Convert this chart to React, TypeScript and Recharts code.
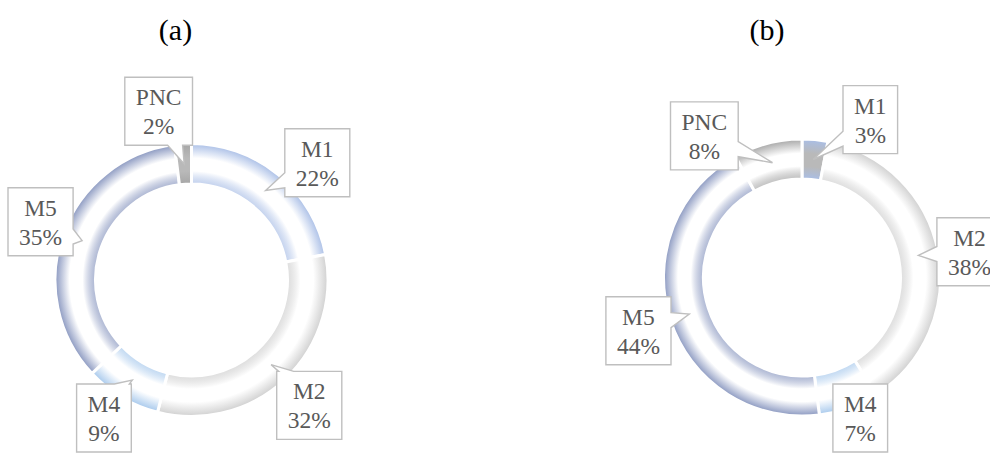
import { PieChart, Pie, Cell } from "recharts";

const categories = ["M1", "M2", "M4", "M5", "PNC"];
const shareA = [22, 32, 9, 35, 2];
const shareB = [3, 38, 7, 44, 8];
const panelTitles = ["(a)", "(b)"];

const sliceColors: Record<string, string> = {
  M1: "#a9bee6",
  M2: "#cfcfcf",
  M4: "#a6c8ec",
  M5: "#8896bf",
  PNC: "#a6a6a6",
};

const FONT = '"Liberation Serif", "Times New Roman", serif';
const LABEL_SIZE = 23.5;
const LABEL_R = 172;
const MIN_SEP = 58;
const RAD = Math.PI / 180;
const W = 990;
const H = 454;

const panels = [
  { key: "a", title: panelTitles[0], values: shareA, cx: 191.5, cy: 280, inner: 96, outer: 136.5, titleX: 175.5 },
  { key: "b", title: panelTitles[1], values: shareB, cx: 802, cy: 277.5, inner: 98.5, outer: 138.5, titleX: 767 },
];

let ctx: CanvasRenderingContext2D | null = null;
function textWidth(s: string) {
  if (!ctx) ctx = document.createElement("canvas").getContext("2d");
  if (!ctx) return s.length * LABEL_SIZE * 0.55;
  ctx.font = `${LABEL_SIZE}px ${FONT}`;
  return ctx.measureText(s).width;
}

// mid angles of the slices, then spread labels that sit too close
function labelOffsets(values: number[]) {
  const total = values.reduce((s, v) => s + v, 0);
  let start = 90;
  const mids = values.map((v) => {
    const sweep = (v / total) * 360;
    const m = start - sweep / 2;
    start -= sweep;
    return m;
  });
  const ang = mids.slice();
  const n = ang.length;
  for (let it = 0; it < 80; it++) {
    for (let i = 0; i < n; i++) {
      const j = (i + 1) % n;
      let sep = ang[i] - ang[j];
      while (sep < 0) sep += 360;
      while (sep >= 360) sep -= 360;
      if (sep < MIN_SEP) {
        const push = ((MIN_SEP - sep) / 2) * 0.5;
        ang[i] += push;
        ang[j] -= push;
      }
    }
  }
  return ang.map((a, i) => a - mids[i]);
}

function calloutPath(x0: number, y0: number, w: number, h: number, tx: number, ty: number) {
  const x1 = x0 + w;
  const y1 = y0 + h;
  const cxb = x0 + w / 2;
  const cyb = y0 + h / 2;
  const dx = tx - cxb;
  const dy = ty - cyb;
  const half = 7.5;
  const inside = tx > x0 && tx < x1 && ty > y0 && ty < y1;
  let edge = "";
  let p = 0;
  if (!inside) {
    const tX = dx === 0 ? Infinity : w / 2 / Math.abs(dx);
    const tY = dy === 0 ? Infinity : h / 2 / Math.abs(dy);
    if (tX < tY) {
      edge = dx > 0 ? "right" : "left";
      p = Math.min(Math.max(cyb + dy * tX, y0 + half + 2), y1 - half - 2);
    } else {
      edge = dy > 0 ? "bottom" : "top";
      p = Math.min(Math.max(cxb + dx * tY, x0 + half + 2), x1 - half - 2);
    }
  }
  const pts: [number, number][] = [[x0, y0]];
  if (edge === "top") pts.push([p - half, y0], [tx, ty], [p + half, y0]);
  pts.push([x1, y0]);
  if (edge === "right") pts.push([x1, p - half], [tx, ty], [x1, p + half]);
  pts.push([x1, y1]);
  if (edge === "bottom") pts.push([p + half, y1], [tx, ty], [p - half, y1]);
  pts.push([x0, y1]);
  if (edge === "left") pts.push([x0, p + half], [tx, ty], [x0, p - half]);
  return "M" + pts.map(([a, b]) => `${a.toFixed(1)},${b.toFixed(1)}`).join("L") + "Z";
}

function makeLabel(offsets: number[]) {
  return (props: any) => {
    const { cx, cy, midAngle, innerRadius, outerRadius, index, percent, payload } = props;
    const name = payload?.name ?? categories[index];
    const pct = `${Math.round(percent * 100)}%`;
    const la = midAngle + offsets[index];
    const w = Math.max(textWidth(name), textWidth(pct)) + 22;
    const h = 68;
    // keep boxes mostly on the canvas (they may run a little past the edge)
    let bx = cx + LABEL_R * Math.cos(-la * RAD);
    bx = Math.max(Math.min(bx, W - w / 2 + 12), w / 2 + 8);
    const by = Math.min(cy + LABEL_R * Math.sin(-la * RAD), H - h / 2 - 2);
    const rm = (innerRadius + outerRadius) / 2;
    const tx = cx + rm * Math.cos(-midAngle * RAD);
    const ty = cy + rm * Math.sin(-midAngle * RAD);
    const x0 = bx - w / 2;
    const y0 = by - h / 2;
    return (
      <g key={`lbl-${index}`}>
        <path d={calloutPath(x0, y0, w, h, tx, ty)} fill="#fff" stroke="#bfbfbf" strokeWidth={1.4} />
        <text x={bx} y={y0 + 28} textAnchor="middle" fontFamily={FONT} fontSize={LABEL_SIZE} fill="#595959">
          {name}
        </text>
        <text x={bx} y={y0 + 57} textAnchor="middle" fontFamily={FONT} fontSize={LABEL_SIZE} fill="#595959">
          {pct}
        </text>
      </g>
    );
  };
}

export default function App() {
  return (
    <div style={{ position: "absolute", left: 0, top: 0, width: W, height: H, background: "#fff" }}>
      {panels.map((p) => (
        <div
          key={`t-${p.key}`}
          style={{
            position: "absolute",
            left: p.titleX - 50,
            top: 10,
            width: 100,
            textAlign: "center",
            fontFamily: FONT,
            fontSize: 30,
            lineHeight: "40px",
            color: "#000",
          }}
        >
          {p.title}
        </div>
      ))}
      <PieChart width={W} height={H} margin={{ top: 0, right: 0, bottom: 0, left: 0 }}>
        <defs>
          {panels.map((p) => {
            const total = p.values.reduce((s, v) => s + v, 0);
            const f = p.inner / p.outer;
            return categories.map((c, i) => {
              const col = sliceColors[c];
              const narrow = p.values[i] / total < 0.05;
              const mid = narrow ? "#b9b9b9" : "#ffffff";
              return (
                <radialGradient
                  key={`g-${p.key}-${c}`}
                  id={`g-${p.key}-${c}`}
                  gradientUnits="userSpaceOnUse"
                  cx={p.cx}
                  cy={p.cy}
                  r={p.outer}
                >
                  <stop offset={0} stopColor={col} />
                  <stop offset={f} stopColor={col} stopOpacity={narrow ? 1 : 0.7} />
                  <stop offset={f + 0.32 * (1 - f)} stopColor={mid} />
                  <stop offset={f + 0.64 * (1 - f)} stopColor={mid} />
                  <stop offset={1} stopColor={col} />
                </radialGradient>
              );
            });
          })}
        </defs>
        {panels.map((p) => {
          const rows = categories.map((name, i) => ({ name, value: p.values[i] }));
          return (
            <Pie
              key={`pie-${p.key}`}
              data={rows}
              dataKey="value"
              nameKey="name"
              cx={p.cx}
              cy={p.cy}
              innerRadius={p.inner}
              outerRadius={p.outer}
              startAngle={90}
              endAngle={-270}
              stroke="#fff"
              strokeWidth={3}
              isAnimationActive={false}
              labelLine={false}
              label={makeLabel(labelOffsets(p.values))}
            >
              {rows.map((r) => (
                <Cell key={`${p.key}-${r.name}`} fill={`url(#g-${p.key}-${r.name})`} stroke="#fff" strokeWidth={3} />
              ))}
            </Pie>
          );
        })}
      </PieChart>
    </div>
  );
}
